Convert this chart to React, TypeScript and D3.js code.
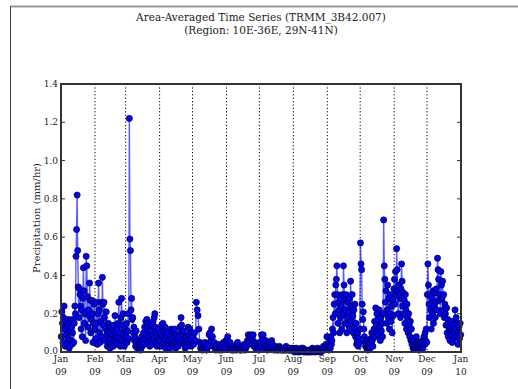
import React from 'react';
import * as d3 from 'd3';

// 2009 area-averaged precipitation (mm/hr)
const jan = [.08, .21, .15, .05, .18, .24, .12, .03, .16, .09, .04, .14, .07, .17, .02, .11, .16, .06, .13, .04,
  .1, .17, .05, .15, .24, .2, .5, .64, .82, .53, .34, .18, .33, .3, .24, .12, .22, .08, .28, .44, .32, .15, .2, .06,
  .5, .45, .29, .13, .22, .19, .36, .27, .1, .17, .27, .2, .05, .15, .25, .12];
const feb = [.12, .07, .26, .15, .04, .2, .36, .22, .1, .05, .16, .26, .08, .39, .25, .14, .26, .18, .06, .12, .21, .09,
  .03, .11, .15, .05, .1, .02, .13, .07, .04, .12, .09, .03, .14, .06, .19, .1, .05, .08, .12, .04, .15, .26, .07, .1,
  .03, .18, .28, .14, .06, .2, .09, .03, .12, .05];
const mar = [.08, .15, .05, .11, .2, .07, 1.22, .59, .53, .22, .28, .17, .18, .1, .13, .06, .08, .03, .11, .05, .02, .06,
  .04, .03, .02, .05, .01, .04, .08, .03, .06, .1, .04, .13, .07, .16, .09, .17, .12, .05, .15, .08, .03, .11, .06, .14,
  .04, .09, .16, .07, .18, .2, .13, .05, .1, .03, .08, .12, .04, .07];
const apr = [.06, .1, .03, .14, .08, .15, .05, .11, .07, .13, .02, .09, .05, .04, .1, .03, .06, .02, .08, .12, .04, .07,
  .11, .03, .05, .12, .06, .02, .09, .04, .07, .03, .08, .05, .13, .1, .18, .14, .06, .09, .11, .04, .07, .02, .05, .08,
  .03, .06, .13, .09, .04, .12, .07, .03, .1, .05];
const may = [.08, .04, .1, .06, .26, .22, .19, .12, .05, .02, .04, .01, .03, .02, .05, .03, .01, .02, .04, .09, .1, .06,
  .12, .08, .03, .05, .02, .01, .03, .02, .04, .01, .02, .03, .01, .02, .05, .03, .02, .06];
const jun = [.06, .08, .04, .02, .05, .03, .01, .02, .01, .03, .02, .01, .04, .05, .02, .03, .01, .02, .01, .03, .02, .04,
  .01, .02, .03, .06, .09, .05, .08, .09, .04, .07, .09, .03, .05, .02, .04, .03, .02, .01];
const jul = [.05, .03, .09, .07, .09, .04, .02, .06, .03, .01, .02, .04, .03, .02, .06, .04, .02, .01, .03, .02, .01, .02,
  .01, .03, .02, .01, .02, .01, .01, .02, .01, .03, .01, .02, .01, .01, .02, .01, .01, .02];
const aug = [.01, 0, .01, .02, .01, 0, .01, 0, .01, .02, .01, .02, 0, .01, 0, .01, 0, 0, .01, 0, .01, 0, .02, .01, 0, .01,
  0, .01, .02, .01, 0, .01, 0, .01, .02, .03, .01, .02, .04, .08];
const sep = [.02, .04, .01, .03, .05, .02, .08, .04, .06, .12, .18, .1, .25, .3, .2, .35, .38, .45, .3, .15, .26, .22, .1,
  .28, .18, .24, .12, .3, .2, .45, .35, .27, .15, .22, .3, .1, .18, .26, .14, .21, .28, .12, .37, .24, .16, .3, .19, .1,
  .22, .13, .25, .08, .15, .04, .06, .1, .03, .07, .05, .12];
const oct = [.57, .46, .43, .25, .17, .21, .12, .08, .05, .03, .06, .02, .04, .01, .03, .02, .05, .02, .07, .04, .1, .06,
  .03, .08, .12, .16, .08, .23, .14, .2, .1, .17, .09, .22, .13, .06, .18, .11, .15, .08, .2, .69, .45, .38, .26, .32,
  .15, .22, .35, .18, .28, .12, .2, .3, .16, .24, .1, .27, .19, .33];
const nov = [.38, .25, .42, .3, .54, .43, .32, .2, .35, .28, .3, .18, .33, .46, .37, .24, .31, .2, .27, .15, .3, .22, .12,
  .25, .18, .1, .2, .14, .08, .16, .06, .12, .04, .07, .02, .05, .03, .06, .02, .04, .08, .03, .05, .02, .04, .01, .03,
  .05, .02, .04, .03, .06, .02, .05, .08, .04, .1, .06, .12, .05];
const dec = [.3, .46, .35, .25, .18, .3, .22, .12, .28, .2, .32, .15, .24, .31, .18, .26, .33, .22, .49, .43, .38, .27,
  .3, .2, .42, .35, .28, .37, .22, .3, .18, .25, .2, .14, .23, .1, .17, .08, .15, .12, .06, .13, .09, .16, .05, .11, .14,
  .07, .1, .22, .12, .18, .08, .15, .04, .1, .13, .07, .15, .09];

const months = [jan, feb, mar, apr, may, jun, jul, aug, sep, oct, nov, dec];
const monthLabels = ['Jan', 'Feb', 'Mar', 'Apr', 'May', 'Jun', 'Jul', 'Aug', 'Sep', 'Oct', 'Nov', 'Dec', 'Jan'];
const yearLabels = ['09', '09', '09', '09', '09', '09', '09', '09', '09', '09', '09', '09', '10'];
const yTicks = [0, 0.2, 0.4, 0.6, 0.8, 1.0, 1.2, 1.4];

const W = 518;
const H = 389;
const margin = { left: 61, right: 57, top: 84, bottom: 37 };
const serif = '"DejaVu Serif", serif';

const App = () => {
  const x = d3.scaleUtc()
    .domain([new Date(Date.UTC(2009, 0, 1)), new Date(Date.UTC(2010, 0, 1))])
    .range([margin.left, W - margin.right]);
  const y = d3.scaleLinear().domain([0, 1.4]).range([H - margin.bottom, margin.top]);

  // spread each month's samples evenly over that month
  const points = months.flatMap((vals, m) => {
    const t0 = Date.UTC(2009, m, 1);
    const t1 = Date.UTC(2009, m + 1, 1);
    return vals.map((v, j) => ({ t: new Date(t0 + ((j + 0.5) / vals.length) * (t1 - t0)), v }));
  });

  const line = d3.line<{ t: Date; v: number }>().x(d => x(d.t)).y(d => y(d.v));
  const monthStarts = monthLabels.map((_, i) => new Date(Date.UTC(2009, i, 1)));
  const [x0, x1] = x.range();
  const [yb, yt] = y.range();

  return (
    <div style={{ position: 'absolute', left: 0, top: 0 }}>
      <svg width={W} height={H} style={{ display: 'block', background: '#fff' }}>
        {/* figure frame */}
        <line x1={10} x2={W} y1={6.5} y2={6.5} stroke="#999" strokeWidth={2} />
        <line x1={10.5} x2={10.5} y1={6} y2={H} stroke="#444" strokeWidth={1} />

        <text x={(x0 + x1) / 2} y={21} textAnchor="middle" fontFamily={serif} fontSize={10.5} fill="#222">
          Area-Averaged Time Series (TRMM_3B42.007)
        </text>
        <text x={(x0 + x1) / 2} y={34} textAnchor="middle" fontFamily={serif} fontSize={10.5} fill="#222">
          (Region: 10E-36E, 29N-41N)
        </text>

        {/* dotted month dividers */}
        {monthStarts.slice(1, 12).map((d, i) => (
          <line key={i} x1={x(d)} x2={x(d)} y1={yt} y2={yb} stroke="#000" strokeWidth={1} strokeDasharray="1.2,2.2" />
        ))}

        <path d={line(points) || ''} fill="none" stroke="#0000ff" strokeOpacity={0.65} strokeWidth={1.4} />
        {points.map((p, i) => (
          <circle key={i} cx={x(p.t)} cy={y(p.v)} r={3.1} fill="#0000ff" stroke="#000" strokeWidth={0.6} />
        ))}

        {/* axes box and ticks */}
        <rect x={x0} y={yt} width={x1 - x0} height={yb - yt} fill="none" stroke="#333" strokeWidth={2} />
        {yTicks.map(t => (
          <g key={t}>
            <line x1={x0} x2={x0 + 4} y1={y(t)} y2={y(t)} stroke="#333" />
            <line x1={x1 - 4} x2={x1} y1={y(t)} y2={y(t)} stroke="#333" />
            <text x={x0 - 3} y={y(t) - (t === 0 ? 1 : 0)} dy="0.35em" textAnchor="end" fontFamily={serif} fontSize={9}
              fill="#222">
              {d3.format('.1f')(t)}
            </text>
          </g>
        ))}
        {monthStarts.map((d, i) => (
          <g key={i}>
            <text x={x(d)} y={362} textAnchor="middle" fontFamily={serif} fontSize={9} fill="#222">{monthLabels[i]}</text>
            <text x={x(d)} y={375} textAnchor="middle" fontFamily={serif} fontSize={9} fill="#222">{yearLabels[i]}</text>
          </g>
        ))}

        <text transform={`translate(40,${(yt + yb) / 2}) rotate(-90)`} textAnchor="middle" fontFamily={serif}
          fontSize={10} fill="#222">
          Precipitation  (mm/hr)
        </text>
      </svg>
    </div>
  );
};

export default App;
